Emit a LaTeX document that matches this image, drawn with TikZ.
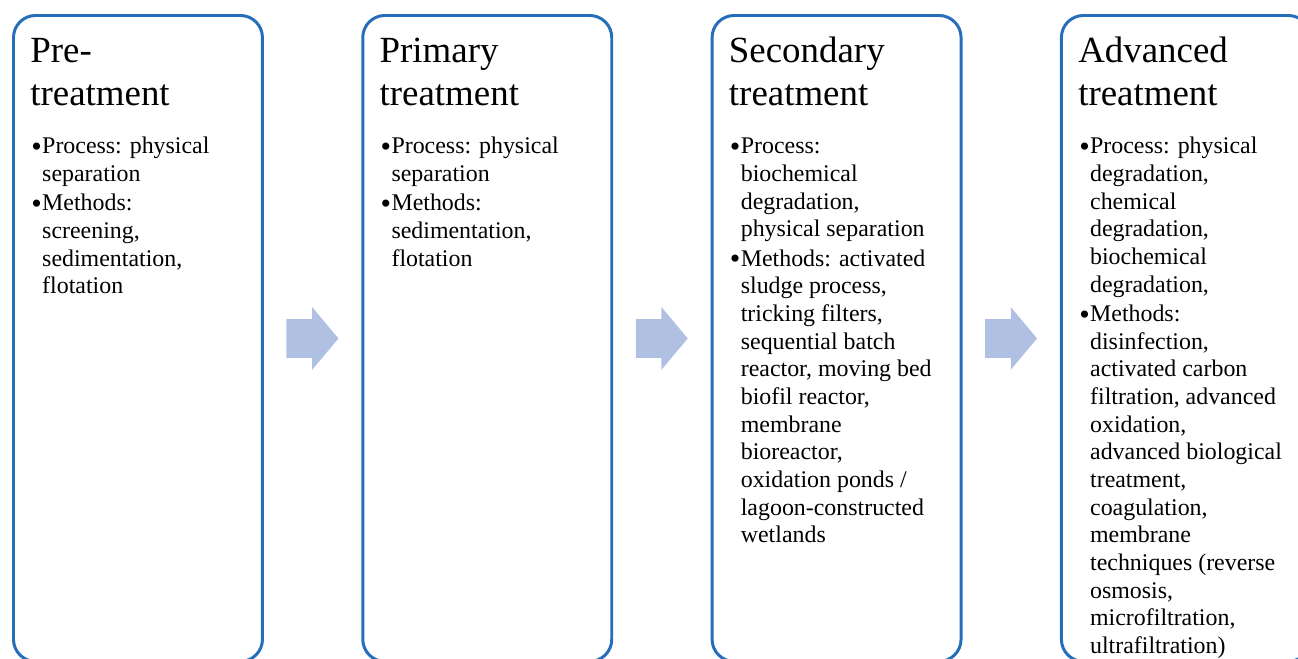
\documentclass[tikz,border=0pt]{standalone}
\usepackage{fontspec}
\setmainfont{Liberation Serif}
\usetikzlibrary{calc,shapes.arrows}
\definecolor{stageblue}{RGB}{38,110,185}
\definecolor{flowblue}{RGB}{176,192,226}
\newcommand{\stagebullet}{\raisebox{-1.6pt}{\fontsize{17}{0}\selectfont\textbullet}}
\tikzstyle{stage}=[rectangle,draw=stageblue,line width=1.7pt,rounded corners=0.44cm,minimum width=4.98cm,minimum height=12.92cm,anchor=north west]
\tikzstyle{heading}=[anchor=north west,inner sep=0,align=left,font=\fontsize{21}{24.4}\selectfont]
\tikzstyle{items}=[anchor=north west,inner sep=0,font=\fontsize{13.6}{15.75}\selectfont]
\tikzstyle{flow}=[single arrow,fill=flowblue,draw=none,inner xsep=0,inner ysep=0.38cm,minimum height=1.04cm,single arrow head extend=0.24cm,single arrow tip angle=100,anchor=tail]

\begin{document}
\begin{tikzpicture}[x=0.02cm,y=-0.02cm]
	\useasboundingbox (0,0) rectangle (1298,659);
	\clip (0,0) rectangle (1298,659);
	\def \gap {349.3};
	
	% the four stages
	\node[stage] (pre) at (12,14) {};
	\node[stage] (prim) at (12+\gap,14) {};
	\node[stage] (sec) at (12+2*\gap,14) {};
	\node[stage] (adv) at (12+3*\gap,14) {};
	
	\node[heading] (prelab) at ($(pre.north west)+(18,18)$) {\strut Pre-\\treatment};
	\node[heading] (primlab) at ($(prim.north west)+(18,18)$) {\strut Primary\\treatment};
	\node[heading] (seclab) at ($(sec.north west)+(18,18)$) {\strut Secondary\\treatment};
	\node[heading] (advlab) at ($(adv.north west)+(18,18)$) {\strut Advanced\\treatment};
	
	\node[items] (prelist) at ($(pre.north west)+(19,120)$) {\begin{tabular}[t]{@{}p{6.2pt}@{}l@{}}
		\stagebullet & Process: physical\\ & separation\\[1pt]
		\stagebullet & Methods:\\ & screening,\\ & sedimentation,\\ & flotation
	\end{tabular}};
	\node[items] (primlist) at ($(prim.north west)+(19,120)$) {\begin{tabular}[t]{@{}p{6.2pt}@{}l@{}}
		\stagebullet & Process: physical\\ & separation\\[1pt]
		\stagebullet & Methods:\\ & sedimentation,\\ & flotation
	\end{tabular}};
	\node[items] (seclist) at ($(sec.north west)+(19,120)$) {\begin{tabular}[t]{@{}p{6.2pt}@{}l@{}}
		\stagebullet & Process:\\ & biochemical\\ & degradation,\\ & physical separation\\[1pt]
		\stagebullet & Methods: activated\\ & sludge process,\\ & tricking filters,\\ & sequential batch\\ & reactor, moving bed\\ & biofil reactor,\\ & membrane\\ & bioreactor,\\ & oxidation ponds /\\ & lagoon-constructed\\ & wetlands
	\end{tabular}};
	\node[items] (advlist) at ($(adv.north west)+(19,120)$) {\begin{tabular}[t]{@{}p{6.2pt}@{}l@{}}
		\stagebullet & Process: physical\\ & degradation,\\ & chemical\\ & degradation,\\ & biochemical\\ & degradation,\\[1pt]
		\stagebullet & Methods:\\ & disinfection,\\ & activated carbon\\ & filtration, advanced\\ & oxidation,\\ & advanced biological\\ & treatment,\\ & coagulation,\\ & membrane\\ & techniques (reverse\\ & osmosis,\\ & microfiltration,\\ & ultrafiltration)
	\end{tabular}};
	
	% arrows between stages
	\node[flow] (a1) at ($(pre.east)!0.5!(prim.west)+(-26.5,0)$) {};
	\node[flow] (a2) at ($(prim.east)!0.5!(sec.west)+(-26.5,0)$) {};
	\node[flow] (a3) at ($(sec.east)!0.5!(adv.west)+(-26.5,0)$) {};
\end{tikzpicture}
\end{document}
